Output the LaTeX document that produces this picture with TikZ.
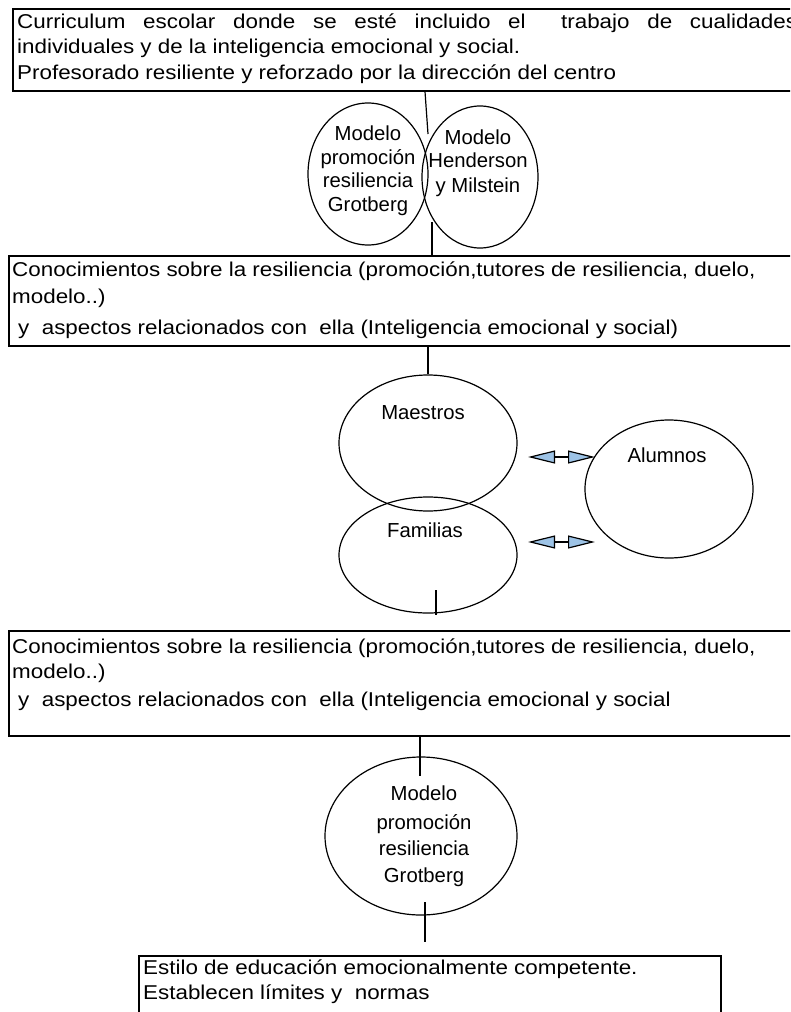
\documentclass[tikz,border=0pt]{standalone}
\usepackage{fontspec}
\setmainfont{Liberation Sans}
\newfontfamily\boxfont[FakeStretch=1.12]{Liberation Sans}
\usetikzlibrary{shapes.geometric,arrows.meta}
\definecolor{arrowblue}{HTML}{9DC3E6}
\tikzset{
 box/.style={draw, line width=1.6pt, anchor=north west, inner sep=0pt},
 oval/.style={draw, ellipse, line width=1.2pt, inner sep=0pt},
 txt/.style={inner sep=0pt, anchor=base west, font=\boxfont\fontsize{20}{24}\selectfont},
 ctxt/.style={inner sep=0pt, anchor=base, font=\fontsize{20.3}{24}\selectfont},
 link/.style={line width=1.2pt},
 dbl/.style={line width=1.2pt, {Triangle[length=27pt,width=13pt,fill=arrowblue]}-{Triangle[length=27pt,width=13pt,fill=arrowblue]}},
}
\begin{document}
\begin{tikzpicture}[x=1pt,y=-1pt]
\useasboundingbox (0,0) rectangle (790,1012);
\clip (0,0) rectangle (790,1012);
\fill[white] (0,0) rectangle (790,1012);
% boxes
\node[box, minimum width=800pt, minimum height=82pt] (b1) at (12,8) {};
\node[box, minimum width=805pt, minimum height=90pt] (b2) at (8,255) {};
\node[box, minimum width=805pt, minimum height=105pt] (b3) at (8,630) {};
\node[box, minimum width=582pt, minimum height=80pt] (b4) at (138,955) {};
% box texts
\node[txt] (t11) at (17,28) {\makebox[780pt][s]{Curriculum escolar donde se esté incluido el \ trabajo de cualidades}};
\node[txt] (t12) at (17,53) {individuales y de la inteligencia emocional y social.};
\node[txt] (t13) at (17,79) {Profesorado resiliente y reforzado por la dirección del centro};
\node[txt] (t21) at (12,276) {Conocimientos sobre la resiliencia (promoción,tutores de resiliencia, duelo,};
\node[txt] (t22) at (12,303) {modelo..)};
\node[txt] (t23) at (18,334) {y \ aspectos relacionados con \ ella (Inteligencia emocional y social)};
\node[txt] (t31) at (12,653) {Conocimientos sobre la resiliencia (promoción,tutores de resiliencia, duelo,};
\node[txt] (t32) at (12,678) {modelo..)};
\node[txt] (t33) at (18,706) {y \ aspectos relacionados con \ ella (Inteligencia emocional y social};
\node[txt] (t41) at (143,974) {Estilo de educación emocionalmente competente.};
\node[txt] (t42) at (143,999) {Establecen límites y \ normas};
% ellipses
\node[oval, minimum width=120pt, minimum height=142pt] (g1) at (368,174) {};
\node[oval, minimum width=116pt, minimum height=142pt] (hm) at (480,177) {};
\node[oval, minimum width=178pt, minimum height=136pt] (mae) at (428,443) {};
\node[oval, minimum width=178pt, minimum height=116pt] (fam) at (428,555) {};
\node[oval, minimum width=168pt, minimum height=138pt] (alu) at (669,489) {};
\node[oval, minimum width=192pt, minimum height=158pt] (g2) at (421,836) {};
% ellipse texts
\node[ctxt] (g1a) at (368,140) {Modelo};
\node[ctxt] (g1b) at (368,164) {promoción};
\node[ctxt] (g1c) at (368,187) {resiliencia};
\node[ctxt] (g1d) at (368,211) {Grotberg};
\node[ctxt] (hma) at (478,144) {Modelo};
\node[ctxt] (hmb) at (478,167) {Henderson};
\node[ctxt] (hmc) at (478,192) {y Milstein};
\node[ctxt] (maet) at (423,419) {Maestros};
\node[ctxt] (alut) at (667,462) {Alumnos};
\node[ctxt] (famt) at (425,537) {Familias};
\node[ctxt] (g2a) at (424,800) {Modelo};
\node[ctxt] (g2b) at (424,829) {promoción};
\node[ctxt] (g2c) at (424,855) {resiliencia};
\node[ctxt] (g2d) at (424,882) {Grotberg};
% connectors
\coordinate (k1) at (425,0);
\coordinate (j1) at (428,134);
\draw[link] (b1.south -| k1) -- (j1);
\coordinate (j2) at (432,222);
\draw[link] (j2) -- (b2.north -| j2);
\draw[link] (b2.south -| mae.north) -- (mae.north);
\coordinate (j4) at (436,590);
\coordinate (j4b) at (436,615);
\draw[link] (j4) -- (j4b);
\coordinate (k5) at (420,0);
\coordinate (j5) at (420,776);
\draw[link] (b3.south -| k5) -- (j5);
\coordinate (j6) at (425,902);
\coordinate (j6b) at (425,942);
\draw[link] (j6) -- (j6b);
% arrows
\coordinate (a1l) at (528,457);
\coordinate (a1r) at (595,457);
\draw[dbl] (a1l) -- (a1r);
\coordinate (a2l) at (528,542);
\coordinate (a2r) at (595,542);
\draw[dbl] (a2l) -- (a2r);
\end{tikzpicture}
\end{document}
